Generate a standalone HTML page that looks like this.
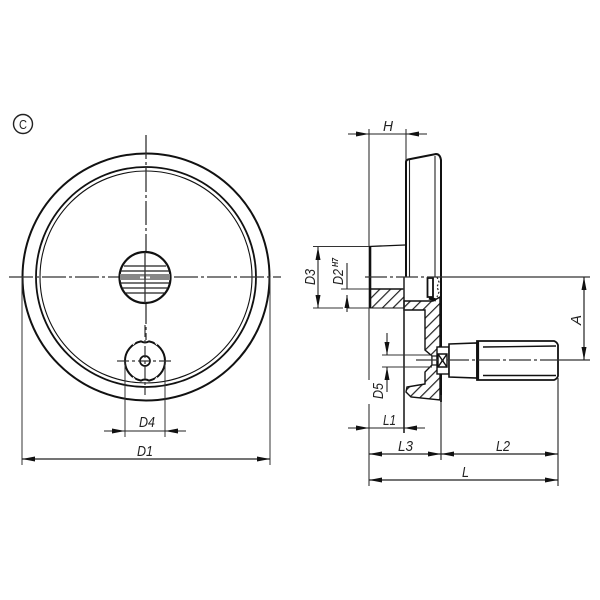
<!DOCTYPE html>
<html><head><meta charset="utf-8"><style>
html,body{margin:0;padding:0;background:#fff}
svg{display:block}
text{font-family:"Liberation Sans",sans-serif;font-style:italic;font-size:15px;fill:#222}
</style></head><body>
<svg width="600" height="600" viewBox="0 0 600 600" xmlns="http://www.w3.org/2000/svg">
<defs>
<pattern id="h" width="7.500" height="7.500" patternUnits="userSpaceOnUse" patternTransform="rotate(45)">
<rect width="7.500" height="7.500" fill="#fff"/><rect x="0" width="1.200" height="7.500" fill="#222"/>
</pattern>
<marker id="a" viewBox="0 0 13 5" refX="13" refY="2.500" markerWidth="13" markerHeight="5" markerUnits="userSpaceOnUse" orient="auto-start-reverse"><path d="M0 0L13 2.500L0 5Z" fill="#111"/></marker>
</defs>
<rect width="600" height="600" fill="#fff"/>
<!-- C mark -->
<circle cx="23" cy="124" r="9.500" fill="none" stroke="#222" stroke-width="1.400"/>
<text x="23" y="129" text-anchor="middle" textLength="8" lengthAdjust="spacingAndGlyphs" style="font-style:normal;font-size:13px">C</text>

<!-- front view -->
<g fill="none" stroke="#111">
<circle cx="146" cy="277" r="123.500" stroke-width="2"/>
<circle cx="146" cy="277" r="110" stroke-width="1.800"/>
<circle cx="146" cy="277" r="106" stroke-width="1.100"/>
</g>
<g stroke="#333" stroke-width="1.300" stroke-dasharray="24 3 3 3" fill="none">
<path d="M146 135V340"/>
<path d="M9 277H281"/>
</g>
<!-- hub -->
<circle cx="145" cy="277.500" r="25.500" fill="#fff" stroke="#111" stroke-width="2.200"/>
<g stroke="#222" stroke-width="1.300">
<path d="M124 266H166M121 271H169M120 283H170M122 288H168M125 293H165"/>
</g>
<rect x="120" y="274" width="50" height="6" fill="#888"/>
<path d="M145 252V303" stroke="#333" stroke-width="1.300"/>
<path d="M140 277.500H144M146 277.500H150" stroke="#fff" stroke-width="2"/>
<!-- small knob -->
<path d="M141 341.400A20 20 0 0 0 141 380.600Q145 378.500 149 380.600A20 20 0 0 0 149 341.400Q145 343.500 141 341.400Z" fill="#fff" stroke="#111" stroke-width="2"/>
<path d="M133 345L135 342M157 345L155 342M133 377L135 380M157 377L155 380" stroke="#fff" stroke-width="1"/>
<circle cx="145" cy="361" r="5" fill="none" stroke="#111" stroke-width="1.700"/>
<g stroke="#333" stroke-width="1.200" stroke-dasharray="12 3 3 3" fill="none">
<path d="M117 361H174"/>
<path d="M145 325V395"/>
</g>
<!-- D4 -->
<path d="M125 361V437M165 361V437" stroke="#333" stroke-width="1"/>
<path d="M104 431H125" stroke="#222" stroke-width="1.100" marker-end="url(#a)"/>
<path d="M186 431H165" stroke="#222" stroke-width="1.100" marker-end="url(#a)"/>
<path d="M125 431H165" stroke="#222" stroke-width="1.100"/>
<text x="139" y="427" textLength="16" lengthAdjust="spacingAndGlyphs">D4</text>
<!-- D1 -->
<path d="M22 277V465M270 277V465" stroke="#333" stroke-width="1"/>
<path d="M22 459H270" stroke="#222" stroke-width="1.200" marker-start="url(#a)" marker-end="url(#a)"/>
<text x="137" y="456" textLength="16" lengthAdjust="spacingAndGlyphs">D1</text>

<!-- side view: sections -->
<path d="M370 289H404V308H370Z" fill="url(#h)" stroke="#111" stroke-width="1"/>
<path d="M404 301H433L440 297V400L411 397L406 392L407 387L425 384V372L432 365V356L425 350V310H404Z" fill="url(#h)" stroke="#111" stroke-width="1.400"/>
<!-- wheel outline -->
<path d="M406 277V162Q406 160 408 159.500L436 154Q440 154 441 160V402" fill="none" stroke="#111" stroke-width="2"/>
<path d="M409.500 160V277M435 156V277" stroke="#222" stroke-width="1.100"/>
<path d="M404 277V302" stroke="#111" stroke-width="1.400"/>
<path d="M404 302V433" stroke="#222" stroke-width="1.600"/>
<!-- hub top -->
<path d="M369 246.500L405 245" stroke="#111" stroke-width="1.300"/>
<path d="M370 246V308" stroke="#111" stroke-width="2.600"/>
<path d="M371 289H403" stroke="#111" stroke-width="1.500"/>
<!-- small seat detail -->
<path d="M427.500 278H433V297H427.500Z" fill="#fff" stroke="#111" stroke-width="1.800"/>
<path d="M429 298L436 300" stroke="#111" stroke-width="3"/>
<path d="M437 277L439 282L437 287L439 292L437 297" fill="none" stroke="#222" stroke-width="1.200" stroke-dasharray="2 2"/>
<!-- handle -->
<path d="M432 356H437V365H432Z" fill="#fff" stroke="#222" stroke-width="1.200"/>
<rect x="437" y="347" width="12" height="27" fill="#fff" stroke="#111" stroke-width="1.400"/>
<path d="M438 354H447V367H438ZM438 354L447 367M447 354L438 367" fill="#fff" stroke="#111" stroke-width="1.400"/>
<path d="M449 344L477 343V378L449 377Z" fill="#fff" stroke="#111" stroke-width="1.600"/>
<path d="M477 341H554Q557 342 558 345V376Q557 379 554 380H477Z" fill="#fff" stroke="#111" stroke-width="1.800"/>
<path d="M483 347L556 346M483 375.500L556 375.500" stroke="#111" stroke-width="1.400"/>
<path d="M478 341V380" stroke="#111" stroke-width="2.200"/>
<!-- center lines -->
<path d="M365 277H441" stroke="#333" stroke-width="1.200" stroke-dasharray="22 3 3 3" fill="none"/>
<path d="M441 277H590" stroke="#333" stroke-width="1.200"/>
<path d="M416 360H556" stroke="#333" stroke-width="1.200" stroke-dasharray="22 3 3 3" fill="none"/>
<path d="M556 360H590" stroke="#333" stroke-width="1.200"/>
<!-- H -->
<path d="M369 129V246M369 308V380M369 404V486" stroke="#333" stroke-width="1.100"/>
<path d="M406 129V160" stroke="#333" stroke-width="1.100"/>
<path d="M348 134H369" stroke="#222" stroke-width="1.100" marker-end="url(#a)"/>
<path d="M427 134H406" stroke="#222" stroke-width="1.100" marker-end="url(#a)"/>
<path d="M369 134H406" stroke="#222" stroke-width="1.100"/>
<text x="383" y="131" textLength="10" lengthAdjust="spacingAndGlyphs">H</text>
<!-- D3 -->
<path d="M313 246.500H369M313 308H343M347 308H369" stroke="#333" stroke-width="1.100"/>
<path d="M318 247V308" stroke="#222" stroke-width="1.100" marker-start="url(#a)" marker-end="url(#a)"/>
<text transform="translate(315,285) rotate(-90)" textLength="16" lengthAdjust="spacingAndGlyphs">D3</text>
<!-- D2 -->
<path d="M341 289H369" stroke="#333" stroke-width="1.100"/>
<path d="M347 263V289" stroke="#222" stroke-width="1.100"/>
<path d="M347 312V295" stroke="#222" stroke-width="1.100" marker-end="url(#a)"/>
<text transform="translate(343,285) rotate(-90)" textLength="16" lengthAdjust="spacingAndGlyphs">D2</text>
<text transform="translate(338,267) rotate(-90)" textLength="9" lengthAdjust="spacingAndGlyphs" style="font-size:8px;font-weight:bold">H7</text>
<!-- D5 -->
<path d="M382 355H432M382 367H432" stroke="#333" stroke-width="1.100"/>
<path d="M387 333V355" stroke="#222" stroke-width="1.100" marker-end="url(#a)"/>
<path d="M387 392V367" stroke="#222" stroke-width="1.100" marker-end="url(#a)"/>
<text transform="translate(383,399) rotate(-90)" textLength="16" lengthAdjust="spacingAndGlyphs">D5</text>
<!-- L1 -->
<path d="M348 428H369" stroke="#222" stroke-width="1.100" marker-end="url(#a)"/>
<path d="M425 428H404" stroke="#222" stroke-width="1.100" marker-end="url(#a)"/>
<path d="M369 428H404" stroke="#222" stroke-width="1.100"/>
<text x="383" y="425" textLength="13" lengthAdjust="spacingAndGlyphs">L1</text>
<!-- L3 L2 L -->
<path d="M441 395V460M558 378V486" stroke="#333" stroke-width="1.200"/>
<path d="M369 454H441" stroke="#222" stroke-width="1.200" marker-start="url(#a)" marker-end="url(#a)"/>
<path d="M441 454H558" stroke="#222" stroke-width="1.200" marker-start="url(#a)" marker-end="url(#a)"/>
<path d="M369 480H558" stroke="#222" stroke-width="1.200" marker-start="url(#a)" marker-end="url(#a)"/>
<text x="398" y="451" textLength="15" lengthAdjust="spacingAndGlyphs">L3</text>
<text x="496" y="451" textLength="14" lengthAdjust="spacingAndGlyphs">L2</text>
<text x="462" y="477" textLength="7" lengthAdjust="spacingAndGlyphs">L</text>
<!-- A -->
<path d="M584 277V360" stroke="#222" stroke-width="1.200" marker-start="url(#a)" marker-end="url(#a)"/>
<text transform="translate(581,325) rotate(-90)" textLength="10" lengthAdjust="spacingAndGlyphs">A</text>
</svg>
</body></html>
